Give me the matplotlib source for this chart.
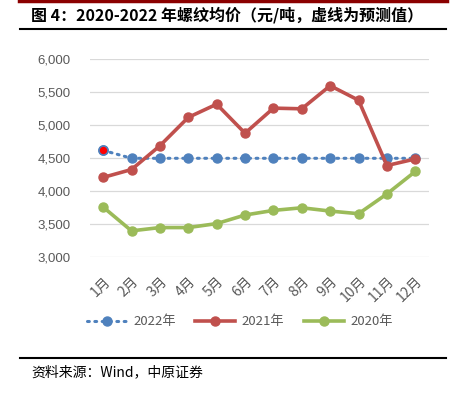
import matplotlib.pyplot as plt
from matplotlib.lines import Line2D

plt.rcParams['font.family'] = ['Noto Sans CJK SC', 'DejaVu Sans']

months = ['1月', '2月', '3月', '4月', '5月', '6月', '7月', '8月', '9月', '10月', '11月', '12月']
p2022 = [4620, 4500, 4500, 4500, 4500, 4500, 4500, 4500, 4500, 4500, 4500, 4500]
p2021 = [4210, 4330, 4690, 5120, 5320, 4880, 5260, 5250, 5600, 5380, 4390, 4490]
p2020 = [3760, 3400, 3450, 3450, 3510, 3640, 3710, 3750, 3700, 3660, 3960, 4300]
yticks = [3000, 3500, 4000, 4500, 5000, 5500, 6000]

blue = '#4F81BD'
red = '#C0504D'
green = '#9BBB59'

fig = plt.figure(figsize=(4.63, 3.97), dpi=100)
ax = fig.add_axes([0.194, 0.352, 0.733, 0.4986])

x = range(len(months))
ax.plot(x, p2022, color=blue, lw=2.2, ls=(0, (0.6, 1.8)), dash_capstyle='round',
        marker='o', ms=6.5, label='2022年', zorder=3)
# first point of 2022 drawn with red fill
ax.plot([0], p2022[:1], ls='none', marker='o', ms=6.5, mfc='#FF0000', mec=blue,
        mew=1.2, zorder=3.5)
ax.plot(x, p2021, color=red, lw=2.6, marker='o', ms=6.5, label='2021年', zorder=4)
ax.plot(x, p2020, color=green, lw=2.6, marker='o', ms=6.5, label='2020年', zorder=5)

ax.set_xlim(-0.47, 11.49)
ax.set_ylim(3000, 6000)
ax.set_yticks(yticks)
ax.set_yticklabels([f'{v:,}' for v in yticks], family='Liberation Sans',
                   fontsize=9.5, color='#595959')
ax.set_xticks(list(x))
ax.set_xticklabels(months, rotation=45, ha='right', va='top', rotation_mode='anchor',
                   fontsize=10, color='#595959')
ax.tick_params(axis='both', length=0)
ax.tick_params(axis='y', pad=14)
ax.tick_params(axis='x', pad=12)
ax.grid(axis='y', color='#D9D9D9', lw=0.9)
ax.set_axisbelow(True)
for s in ax.spines.values():
    s.set_visible(False)

handles, labels = ax.get_legend_handles_labels()
fig.legend(handles, labels, loc='center', bbox_to_anchor=(0.518, 0.189), ncol=3,
           frameon=False, fontsize=9.5, labelcolor='#595959', handlelength=3.0,
           columnspacing=1.5, handletextpad=0.5)

# header and footer
fig.add_artist(Line2D([0.04, 0.965], [0.997, 0.997], color='#8B0000', lw=2.5))
fig.text(0.067, 0.963, '图 4：2020-2022 年螺纹均价（元/吨，虚线为预测值）',
         fontsize=11.5, fontweight='bold', va='center', ha='left')
fig.add_artist(Line2D([0.044, 0.963], [0.927, 0.927], color='black', lw=1.5))
fig.add_artist(Line2D([0.044, 0.963], [0.099, 0.099], color='black', lw=1.5))
fig.text(0.067, 0.063, '资料来源：Wind，中原证券', fontsize=10, va='center', ha='left')

fig.savefig('out.png', dpi=100)
